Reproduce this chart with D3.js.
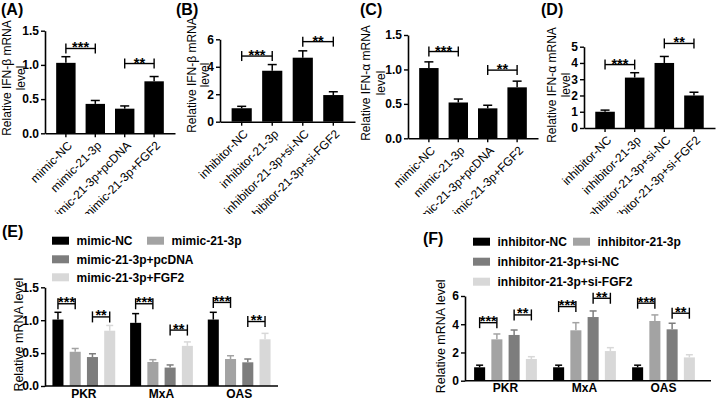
<!DOCTYPE html>
<html><head><meta charset="utf-8">
<script src="https://cdn.jsdelivr.net/npm/d3@7"></script>
<style>
html,body{margin:0;padding:0;background:#fff;}
svg{display:block;}
</style></head>
<body>
<svg id="chart" width="720" height="401"></svg>
<script>
// ---------- DATA ----------
const catsMimic = ["mimic-NC","mimic-21-3p","mimic-21-3p+pcDNA","mimic-21-3p+FGF2"];
const catsInhib = ["inhibitor-NC","inhibitor-21-3p","inhibitor-21-3p+si-NC","inhibitor-21-3p+si-FGF2"];

const valA = [1.03, 0.43, 0.36, 0.76];
const errA = [0.09, 0.05, 0.04, 0.07];
const valB = [0.98, 3.71, 4.66, 1.94];
const errB = [0.14, 0.45, 0.50, 0.24];
const valC = [1.02, 0.52, 0.435, 0.74];
const errC = [0.09, 0.05, 0.045, 0.09];
const valD = [1.00, 3.10, 4.00, 2.00];
const errD = [0.10, 0.30, 0.40, 0.20];

const ticksA = [0, 0.5, 1.0, 1.5];
const ticksB = [0, 2, 4, 6];
const ticksC = [0, 0.5, 1.0, 1.5];
const ticksD = [0, 1, 2, 3, 4, 5];

// significance brackets: [fromIndex, toIndex, yValue, label]
const sigA = [[0, 1, 1.24, "***"], [2, 3, 1.02, "**"]];
const sigB = [[0, 1, 4.78, "***"], [2, 3, 5.83, "**"]];
const sigC = [[0, 1, 1.26, "***"], [2, 3, 0.99, "**"]];
const sigD = [[0, 1, 3.90, "***"], [2, 3, 5.20, "**"]];

const genes = ["PKR", "MxA", "OAS"];
// panel E series (values per gene)
const eMimicNC   = [1.01, 0.96, 1.01];
const eMimicNCe  = [0.11, 0.14, 0.11];
const eMimic     = [0.52, 0.365, 0.41];
const eMimice    = [0.05, 0.035, 0.05];
const eMimicPc   = [0.44, 0.28, 0.36];
const eMimicPce  = [0.05, 0.04, 0.05];
const eMimicFGF  = [0.84, 0.61, 0.71];
const eMimicFGFe = [0.08, 0.06, 0.09];
const ticksE = [0, 0.5, 1.0, 1.5];
// [gene, fromSeries, toSeries, yValue, label]
const sigE = [[0,0,1,1.25,"***"],[0,2,3,1.05,"**"],[1,0,1,1.25,"***"],[1,2,3,0.85,"**"],[2,0,1,1.27,"***"],[2,2,3,0.98,"**"]];

// panel F series
const fInhNC    = [0.95, 0.95, 0.95];
const fInhNCe   = [0.15, 0.15, 0.15];
const fInh      = [2.93, 3.57, 4.23];
const fInhe     = [0.38, 0.54, 0.43];
const fInhSiNC  = [3.24, 4.51, 3.64];
const fInhSiNCe = [0.35, 0.43, 0.43];
const fInhSiF   = [1.54, 2.10, 1.65];
const fInhSiFe  = [0.16, 0.24, 0.19];
const ticksF = [0, 2, 4, 6];
const sigF = [[0,0,1,4.11,"***"],[0,2,3,4.66,"**"],[1,0,1,5.25,"***"],[1,2,3,5.84,"**"],[2,0,1,5.49,"***"],[2,2,3,4.78,"**"]];

const seriesColors = ["#000000", "#a3a3a3", "#7d7d7d", "#d8d8d8"];

// ---------- DRAW ----------
const FONT = "'Liberation Sans', Arial, Helvetica, sans-serif";
const svg = d3.select("#chart");
// the top row of the source figure is cropped just above panels E/F
svg.append("defs").append("clipPath").attr("id", "topClip")
  .append("rect").attr("x", 0).attr("y", 0).attr("width", 720).attr("height", 214);

function styleAxis(sel, size, weight) {
  sel.selectAll("path.domain").attr("stroke", "#000").attr("stroke-width", 1.6);
  sel.selectAll(".tick line").attr("stroke", "#000").attr("stroke-width", 1.4);
  sel.selectAll("text").attr("font-family", FONT).attr("font-size", size).attr("font-weight", weight).attr("fill", "#000");
}

function bracket(g, xa, xb, yy, label, half, off) {
  g.append("line").attr("x1", xa).attr("x2", xb).attr("y1", yy).attr("y2", yy).attr("stroke", "#000").attr("stroke-width", 1.4);
  [xa, xb].forEach(xx => g.append("line").attr("x1", xx).attr("x2", xx).attr("y1", yy - half).attr("y2", yy + half).attr("stroke", "#000").attr("stroke-width", 1.4));
  g.append("text").attr("x", (xa + xb) / 2).attr("y", yy + off).attr("text-anchor", "middle")
    .attr("font-family", FONT).attr("font-size", 14.5).attr("font-weight", "bold").attr("fill", "#000").text(label);
}

function simplePanel(o) {
  const g = svg.append("g").attr("clip-path", "url(#topClip)");
  const x = d3.scaleBand().domain(o.cats).range([o.x0, o.x1]).paddingInner(0.34).paddingOuter(0.38);
  const y = d3.scaleLinear().domain([0, o.ymax]).range([o.yb, o.yt]);
  const data = o.vals.map((v, i) => ({c: o.cats[i], v: v, e: o.errs[i]}));

  g.selectAll("rect.bar").data(data).join("rect").attr("class", "bar")
    .attr("x", d => x(d.c)).attr("width", x.bandwidth())
    .attr("y", d => y(d.v)).attr("height", d => y(0) - y(d.v)).attr("fill", "#000");
  const cx = d => x(d.c) + x.bandwidth() / 2;
  g.selectAll("line.err").data(data).join("line").attr("class", "err")
    .attr("x1", cx).attr("x2", cx).attr("y1", d => y(d.v)).attr("y2", d => y(d.v + d.e))
    .attr("stroke", "#000").attr("stroke-width", 1.5);
  g.selectAll("line.cap").data(data).join("line").attr("class", "cap")
    .attr("x1", d => cx(d) - 4.5).attr("x2", d => cx(d) + 4.5).attr("y1", d => y(d.v + d.e)).attr("y2", d => y(d.v + d.e))
    .attr("stroke", "#000").attr("stroke-width", 1.5);

  const ya = g.append("g").attr("transform", `translate(${o.x0},0)`)
    .call(d3.axisLeft(y).tickValues(o.ticks).tickFormat(o.fmt).tickSize(4).tickSizeOuter(0).tickPadding(2));
  styleAxis(ya, 12, "bold");
  const xa = g.append("g").attr("transform", `translate(0,${o.yb})`)
    .call(d3.axisBottom(x).tickSize(4).tickSizeOuter(0));
  styleAxis(xa, 12, "normal");
  xa.selectAll(".tick text").attr("text-anchor", "end").attr("dy", "0.35em").attr("y", 0)
    .attr("transform", "translate(4,10) rotate(-45)");

  o.sig.forEach(s => {
    const xa1 = x(o.cats[s[0]]) + x.bandwidth() / 2, xb1 = x(o.cats[s[1]]) + x.bandwidth() / 2;
    bracket(g, xa1, xb1, y(s[2]), s[3], 5, 4);
  });

  // y title (two lines)
  [[o.title, o.tx], ["level", o.tx + o.lineGap]].forEach(L => {
    g.append("text").attr("transform", `translate(${L[1]},${o.ty}) rotate(-90)`)
      .attr("dy", "0.35em").attr("font-family", FONT).attr("font-size", 12).attr("fill", "#000")
      .attr("text-anchor", "middle").text(L[0]);
  });

  svg.append("text").attr("x", o.lx).attr("y", 15).attr("font-family", FONT).attr("font-size", 16)
    .attr("font-weight", "bold").text(o.letter);
}

simplePanel({cats: catsMimic, vals: valA, errs: errA, ticks: ticksA, fmt: d3.format(".1f"), ymax: 1.5,
  x0: 45, x1: 175, yb: 133.3, yt: 30.7, sig: sigA, title: "Relative IFN-β mRNA", tx: 6.5, ty: 78, lineGap: 14, letter: "(A)", lx: 1});
simplePanel({cats: catsInhib, vals: valB, errs: errB, ticks: ticksB, fmt: d3.format("d"), ymax: 6,
  x0: 220, x1: 355, yb: 121.7, yt: 39.3, sig: sigB, title: "Relative IFN-β mRNA", tx: 192, ty: 75, lineGap: 13, letter: "(B)", lx: 176});
simplePanel({cats: catsMimic, vals: valC, errs: errC, ticks: ticksC, fmt: d3.format(".1f"), ymax: 1.5,
  x0: 408, x1: 538, yb: 138.3, yt: 35, sig: sigC, title: "Relative IFN-α mRNA", tx: 366, ty: 83, lineGap: 14.5, letter: "(C)", lx: 360});
simplePanel({cats: catsInhib, vals: valD, errs: errD, ticks: ticksD, fmt: d3.format("d"), ymax: 5,
  x0: 584, x1: 715, yb: 128, yt: 46.7, sig: sigD, title: "Relative IFN-α mRNA", tx: 552, ty: 85, lineGap: 13.5, letter: "(D)", lx: 541});

function groupedPanel(o) {
  const g = svg.append("g");
  const x = d3.scaleBand().domain(genes).range([o.gx0, o.gx1]).padding(0);
  const xs = d3.scaleBand().domain(d3.range(4)).range([-34.5, 34.5]).paddingInner(0.36).paddingOuter(0.18);
  const y = d3.scaleLinear().domain([0, o.ymax]).range([o.yb, o.yt]);
  const data = [];
  o.series.forEach((s, si) => s.vals.forEach((v, gi) => data.push({g: genes[gi], s: si, v: v, e: s.errs[gi]})));
  const bx = d => x(d.g) + x.bandwidth() / 2 + xs(d.s);
  const cx = d => bx(d) + xs.bandwidth() / 2;

  g.selectAll("rect.bar").data(data).join("rect").attr("class", "bar")
    .attr("x", bx).attr("width", xs.bandwidth())
    .attr("y", d => y(d.v)).attr("height", d => y(0) - y(d.v)).attr("fill", d => seriesColors[d.s]);
  g.selectAll("line.err").data(data).join("line").attr("class", "err")
    .attr("x1", cx).attr("x2", cx).attr("y1", d => y(d.v)).attr("y2", d => y(d.v + d.e))
    .attr("stroke", d => seriesColors[d.s]).attr("stroke-width", 1.5);
  g.selectAll("line.cap").data(data).join("line").attr("class", "cap")
    .attr("x1", d => cx(d) - 3.5).attr("x2", d => cx(d) + 3.5).attr("y1", d => y(d.v + d.e)).attr("y2", d => y(d.v + d.e))
    .attr("stroke", d => seriesColors[d.s]).attr("stroke-width", 1.5);

  const ya = g.append("g").attr("transform", `translate(${o.ax0},0)`)
    .call(d3.axisLeft(y).tickValues(o.ticks).tickFormat(o.fmt).tickSize(4).tickSizeOuter(0).tickPadding(2));
  styleAxis(ya, 12, "bold");
  const xa = g.append("g").attr("transform", `translate(0,${o.yb})`)
    .call(d3.axisBottom(x).tickSize(0).tickSizeOuter(0).tickPadding(3));
  styleAxis(xa, 12, "bold");
  xa.select("path.domain").remove();
  g.append("line").attr("x1", o.ax0).attr("x2", o.ax1).attr("y1", o.yb).attr("y2", o.yb).attr("stroke", "#000").attr("stroke-width", 1.6);

  o.sig.forEach(s => {
    const base = x(genes[s[0]]) + x.bandwidth() / 2;
    bracket(g, base + xs(s[1]) + xs.bandwidth() / 2, base + xs(s[2]) + xs.bandwidth() / 2, y(s[3]), s[4], 5.5, 3.5);
  });

  g.append("text").attr("transform", `translate(${o.tx},${(o.yb + o.yt) / 2 - 2}) rotate(-90)`)
    .attr("dy", "0.35em").attr("font-family", FONT).attr("font-size", 12.5).attr("text-anchor", "middle").text("Relative mRNA level");

  // legend
  o.legend.forEach((L, i) => {
    g.append("rect").attr("x", L[0]).attr("y", L[1] - 4).attr("width", 17).attr("height", 8).attr("fill", seriesColors[i]);
    g.append("text").attr("x", L[0] + 24.5).attr("y", L[1]).attr("dy", "0.35em").attr("font-family", FONT)
      .attr("font-size", 12).attr("font-weight", "bold").text(o.series[i].name);
  });
  svg.append("text").attr("x", o.lx).attr("y", o.ly).attr("font-family", FONT).attr("font-size", 16)
    .attr("font-weight", "bold").text(o.letter);
}

groupedPanel({
  series: [
    {name: catsMimic[0], vals: eMimicNC, errs: eMimicNCe},
    {name: catsMimic[1], vals: eMimic, errs: eMimice},
    {name: catsMimic[2], vals: eMimicPc, errs: eMimicPce},
    {name: catsMimic[3], vals: eMimicFGF, errs: eMimicFGFe}],
  ticks: ticksE, fmt: d3.format(".1f"), ymax: 1.5, gx0: 45, gx1: 278, ax0: 45, ax1: 278, yb: 386, yt: 287.3,
  sig: sigE, tx: 19, legend: [[52, 240.7], [147, 240.7], [52, 259.3], [52, 277.3]],
  letter: "(E)", lx: 2, ly: 237});

groupedPanel({
  series: [
    {name: catsInhib[0], vals: fInhNC, errs: fInhNCe},
    {name: catsInhib[1], vals: fInh, errs: fInhe},
    {name: catsInhib[2], vals: fInhSiNC, errs: fInhSiNCe},
    {name: catsInhib[3], vals: fInhSiF, errs: fInhSiFe}],
  ticks: ticksF, fmt: d3.format("d"), ymax: 6, gx0: 466, gx1: 703, ax0: 465, ax1: 711, yb: 380.7, yt: 296,
  sig: sigF, tx: 441, legend: [[473, 241.7], [573, 241.7], [473, 261.7], [473, 281.7]],
  letter: "(F)", lx: 423, ly: 244});
</script>
</body></html>
